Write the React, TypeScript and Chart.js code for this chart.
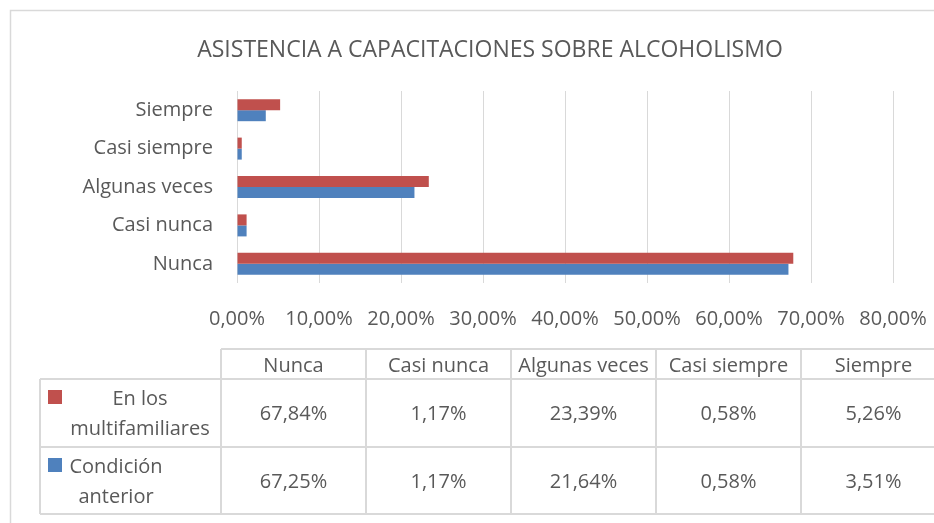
import React, { useEffect, useRef } from 'react';
import { Chart, registerables } from 'chart.js';

Chart.register(...registerables);

// ---------- data ----------
const TITLE = 'ASISTENCIA A CAPACITACIONES SOBRE ALCOHOLISMO';
const categories = ['Nunca', 'Casi nunca', 'Algunas veces', 'Casi siempre', 'Siempre'];
const seriesNames = ['En los multifamiliares', 'Condición anterior'];
const multifamiliares = [67.84, 1.17, 23.39, 0.58, 5.26];
const condicionAnterior = [67.25, 1.17, 21.64, 0.58, 3.51];
const xTickValues = [0, 10, 20, 30, 40, 50, 60, 70, 80];

// ---------- style ----------
const FONT = "'Open Sans', sans-serif";
const TEXT = '#595959';
const LINE = '#D9D9D9';
const seriesColors = ['#C0504D', '#4F81BD'];

const fmt = (v: number) => v.toFixed(2).replace('.', ',') + '%';

const seriesValues = [multifamiliares, condicionAnterior];

function wrap(ctx: CanvasRenderingContext2D, text: string, maxW: number): string[] {
  const words = text.split(' ');
  const lines: string[] = [];
  let cur = '';
  for (const w of words) {
    const t = cur ? cur + ' ' + w : w;
    if (cur && ctx.measureText(t).width > maxW) {
      lines.push(cur);
      cur = w;
    } else cur = t;
  }
  if (cur) lines.push(cur);
  return lines;
}

const tablePlugin = {
  id: 'excelDataTable',
  afterDraw(chart: any) {
    const ctx: CanvasRenderingContext2D = chart.ctx;
    const W = chart.width;
    const H = chart.height;
    ctx.save();

    // outer chart border
    ctx.strokeStyle = LINE;
    ctx.lineWidth = 1.5;
    ctx.beginPath();
    ctx.moveTo(10.5, H + 2);
    ctx.lineTo(10.5, 10.5);
    ctx.lineTo(W + 2, 10.5);
    ctx.stroke();

    // title
    ctx.fillStyle = TEXT;
    ctx.font = `23px ${FONT}`;
    ctx.textAlign = 'center';
    ctx.textBaseline = 'alphabetic';
    ctx.fillText(TITLE, 490, 57);

    // data table
    const left = 40;
    const labelRight = 221;
    const colW = 145;
    const right = labelRight + colW * categories.length;
    const headerTop = 349;
    const rowTops = [379, 447, 514];

    ctx.strokeStyle = LINE;
    ctx.lineWidth = 2;
    ctx.beginPath();
    ctx.moveTo(labelRight, headerTop);
    ctx.lineTo(right, headerTop);
    for (const y of rowTops) {
      ctx.moveTo(left, y);
      ctx.lineTo(right, y);
    }
    ctx.moveTo(left, rowTops[0]);
    ctx.lineTo(left, rowTops[rowTops.length - 1]);
    for (let i = 0; i <= categories.length; i++) {
      const x = labelRight + colW * i;
      ctx.moveTo(x, headerTop);
      ctx.lineTo(x, rowTops[rowTops.length - 1]);
    }
    ctx.stroke();

    ctx.font = `20px ${FONT}`;
    ctx.fillStyle = TEXT;
    ctx.textAlign = 'center';
    categories.forEach((c, i) => {
      ctx.fillText(c, labelRight + colW * (i + 0.5), headerTop + 23);
    });

    const valueBaselines = [420, 488];
    const labelCenters = [140, 116];
    seriesNames.forEach((name, r) => {
      const vals = seriesValues[r];
      vals.forEach((v, i) => {
        ctx.fillText(fmt(v), labelRight + colW * (i + 0.5), valueBaselines[r]);
      });
      const lines = wrap(ctx, name, 150);
      const rowTop = rowTops[r];
      const b1 = rowTop + 26;
      lines.forEach((ln, k) => {
        ctx.fillText(ln, labelCenters[r], b1 + k * 29.5);
      });
      ctx.fillStyle = seriesColors[r];
      ctx.fillRect(48, b1 - 15, 14, 14);
      ctx.fillStyle = TEXT;
    });

    ctx.restore();
  },
};

export default function App() {
  const ref = useRef<HTMLCanvasElement | null>(null);

  useEffect(() => {
    if (!ref.current) return;
    const labels = [...categories].reverse();
    const chart = new Chart(ref.current, {
      type: 'bar',
      data: {
        labels,
        datasets: seriesNames.map((name, i) => ({
          label: name,
          data: [...seriesValues[i]].reverse(),
          backgroundColor: seriesColors[i],
          borderWidth: 0,
          categoryPercentage: 0.573,
          barPercentage: 1,
        })),
      },
      options: {
        animation: false,
        responsive: true,
        maintainAspectRatio: false,
        indexAxis: 'y',
        layout: { padding: { top: 91, left: 0, right: 41, bottom: 180 } },
        plugins: {
          legend: { display: false },
          title: { display: false },
          tooltip: { enabled: false },
        },
        scales: {
          x: {
            min: xTickValues[0],
            max: xTickValues[xTickValues.length - 1],
            afterBuildTicks: (s: any) => {
              s.ticks = xTickValues.map((v) => ({ value: v }));
            },
            grid: { color: LINE, lineWidth: 1, drawTicks: false },
            border: { display: false },
            ticks: {
              padding: 24,
              color: TEXT,
              font: { family: FONT, size: 20 },
              maxRotation: 0,
              autoSkip: false,
              callback: (v: any) => fmt(Number(v)),
            },
            afterFit: (s: any) => {
              s.height = 60;
              s.paddingLeft = 0;
              s.paddingRight = 0;
            },
          },
          y: {
            grid: { display: false, drawTicks: false },
            border: { display: false },
            ticks: {
              padding: 24,
              color: TEXT,
              font: { family: FONT, size: 20 },
            },
            afterFit: (s: any) => {
              s.width = 237;
              s.paddingTop = 0;
              s.paddingBottom = 0;
            },
          },
        },
      },
      plugins: [tablePlugin],
    } as any);
    return () => chart.destroy();
  }, []);

  return (
    <div style={{ position: 'absolute', left: 0, top: 0, width: 934, height: 523, background: '#fff' }}>
      <canvas ref={ref} />
    </div>
  );
}
